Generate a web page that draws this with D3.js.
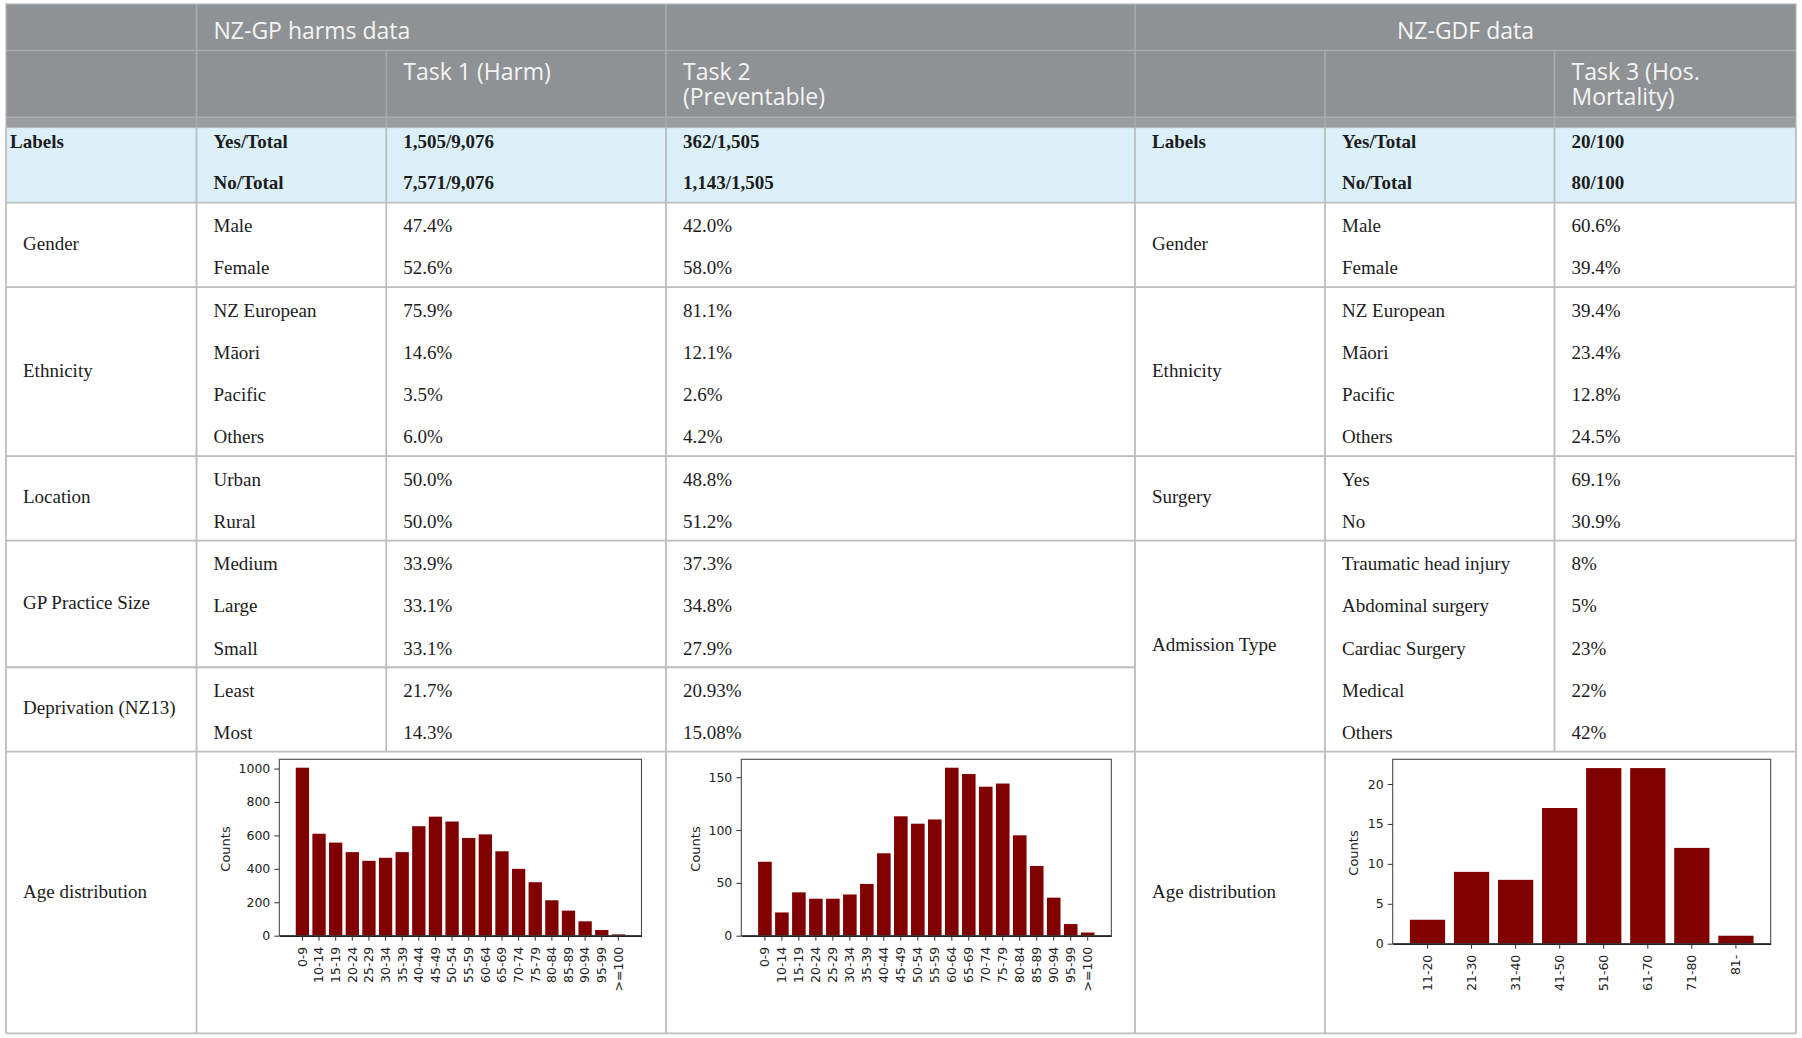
<!DOCTYPE html>
<html><head><meta charset="utf-8">
<script src="https://cdn.jsdelivr.net/npm/d3@7"></script>
<style>html,body{margin:0;padding:0;background:#fff;overflow:hidden}</style>
</head><body><svg id="c" width="1802" height="1038"></svg>
<script>
// ---------------- data ----------------
const headerTop = ["NZ-GP harms data", "NZ-GDF data"];
const task1Header = ["Task 1 (Harm)"];
const task2Header = ["Task 2", "(Preventable)"];
const task3Header = ["Task 3 (Hos.", "Mortality)"];
const labelsTitle = "Labels";
const labelSubs = ["Yes/Total", "No/Total"];
const task1Labels = ["1,505/9,076", "7,571/9,076"];
const task2Labels = ["362/1,505", "1,143/1,505"];
const task3Labels = ["20/100", "80/100"];
const gpGroups = ["Gender", "Ethnicity", "Location", "GP Practice Size", "Deprivation (NZ13)"];
const gpSubs = [["Male", "Female"], ["NZ European", "Māori", "Pacific", "Others"], ["Urban", "Rural"], ["Medium", "Large", "Small"], ["Least", "Most"]];
const task1Values = [["47.4%", "52.6%"], ["75.9%", "14.6%", "3.5%", "6.0%"], ["50.0%", "50.0%"], ["33.9%", "33.1%", "33.1%"], ["21.7%", "14.3%"]];
const task2Values = [["42.0%", "58.0%"], ["81.1%", "12.1%", "2.6%", "4.2%"], ["48.8%", "51.2%"], ["37.3%", "34.8%", "27.9%"], ["20.93%", "15.08%"]];
const gdfGroups = ["Gender", "Ethnicity", "Surgery", "Admission Type"];
const gdfSubs = [["Male", "Female"], ["NZ European", "Māori", "Pacific", "Others"], ["Yes", "No"], ["Traumatic head injury", "Abdominal surgery", "Cardiac Surgery", "Medical", "Others"]];
const task3Values = [["60.6%", "39.4%"], ["39.4%", "23.4%", "12.8%", "24.5%"], ["69.1%", "30.9%"], ["8%", "5%", "23%", "22%", "42%"]];
const ageTitle = "Age distribution";
const countsLabel = "Counts";
const ageBins5 = ["0-9", "10-14", "15-19", "20-24", "25-29", "30-34", "35-39", "40-44", "45-49", "50-54", "55-59", "60-64", "65-69", "70-74", "75-79", "80-84", "85-89", "90-94", "95-99", ">=100"];
const task1Ages = [1005, 610, 557, 500, 448, 466, 500, 655, 712, 683, 585, 606, 505, 400, 320, 212, 150, 86, 34, 8];
const task2Ages = [70, 22, 41, 35, 35, 39, 49, 78, 113, 106, 110, 159, 153, 141, 144, 95, 66, 36, 11, 3];
const ageBins10 = ["11-20", "21-30", "31-40", "41-50", "51-60", "61-70", "71-80", "81-"];
const task3Ages = [3, 9, 8, 17, 22, 22, 12, 1];
const ticks1 = [0, 200, 400, 600, 800, 1000];
const ticks2 = [0, 50, 100, 150];
const ticks3 = [0, 5, 10, 15, 20];

// ---------------- layout ----------------
const svg = d3.select("#c");
const colX = [6, 196.5, 386.3, 666, 1135, 1325, 1554.5, 1796];
const pad = 17;
const hTop = 4, h1 = 50.5, h2 = 117.3, hStrip = 127.5, bodyTop = 202.7, bodyBot = 751.7, tableBot = 1033.3;
const subH = (bodyBot - bodyTop) / 13;
const headFill = "#8f9295", stripFill = "#9a9da0", headLine = "#a9acae";
const blue = "#dcf0fa", bodyLine = "#bdbdbd";
const serif = "'Liberation Serif','Times New Roman',serif";
const sans = "'Open Sans','Noto Sans',sans-serif";

svg.append("rect").attr("width", 1802).attr("height", 1038).attr("fill", "#fff");
svg.append("rect").attr("x", colX[0]).attr("y", hTop).attr("width", colX[7] - colX[0]).attr("height", h2 - hTop).attr("fill", headFill);
svg.append("rect").attr("x", colX[0]).attr("y", h2).attr("width", colX[7] - colX[0]).attr("height", hStrip - h2).attr("fill", stripFill);
svg.append("rect").attr("x", colX[0]).attr("y", hStrip).attr("width", colX[7] - colX[0]).attr("height", bodyTop - hStrip).attr("fill", blue);

// header lines
const hl = svg.append("g").attr("stroke", headLine).attr("stroke-width", 1.5);
[[colX[0], colX[7], h1], [colX[0], colX[7], h2]].forEach(d => hl.append("line").attr("x1", d[0]).attr("x2", d[1]).attr("y1", d[2]).attr("y2", d[2]));
[[colX[1], hTop, hStrip], [colX[3], hTop, hStrip], [colX[4], hTop, hStrip], [colX[2], h1, hStrip], [colX[5], h1, hStrip], [colX[6], h1, hStrip]]
  .forEach(d => hl.append("line").attr("x1", d[0]).attr("x2", d[0]).attr("y1", d[1]).attr("y2", d[2]));

// body lines
const bl = svg.append("g").attr("stroke", bodyLine).attr("stroke-width", 1.8).attr("fill", "none");
const gpTops = [bodyTop]; gpSubs.forEach(s => gpTops.push(gpTops[gpTops.length - 1] + s.length * subH));
const gdfTops = [bodyTop]; gdfSubs.forEach(s => gdfTops.push(gdfTops[gdfTops.length - 1] + s.length * subH));
const hLines = [[colX[0], colX[7], bodyTop], [colX[0], colX[7], bodyBot], [colX[0], colX[7], tableBot]];
gpTops.slice(1, -1).forEach(y => {
  const shared = gdfTops.some(t => Math.abs(t - y) < 0.5);
  hLines.push([colX[0], shared ? colX[7] : colX[4], y]);
});
hLines.forEach(d => bl.append("line").attr("x1", d[0]).attr("x2", d[1]).attr("y1", d[2]).attr("y2", d[2]));
[[colX[0], hStrip, tableBot], [colX[1], hStrip, tableBot], [colX[2], hStrip, bodyBot], [colX[3], hStrip, tableBot],
 [colX[4], hStrip, tableBot], [colX[5], hStrip, tableBot], [colX[6], hStrip, bodyBot], [colX[7], hStrip, tableBot]]
  .forEach(d => bl.append("line").attr("x1", d[0]).attr("x2", d[0]).attr("y1", d[1]).attr("y2", d[2]));
svg.append("rect").attr("x", colX[0]).attr("y", hTop).attr("width", colX[7] - colX[0]).attr("height", hStrip - hTop)
  .attr("fill", "none").attr("stroke", "#b5b8ba").attr("stroke-width", 1.2);

// header text
const ht = svg.append("g").attr("font-family", sans).attr("font-weight", 400).attr("font-size", 23).attr("fill", "#f4f4f4");
ht.append("text").attr("x", colX[1] + pad).attr("y", 38.5).text(headerTop[0]);
ht.append("text").attr("x", (colX[4] + colX[7]) / 2).attr("y", 38.5).attr("text-anchor", "middle").text(headerTop[1]);
[[task1Header, colX[2]], [task2Header, colX[3]], [task3Header, colX[6]]].forEach(([lines, x]) => {
  const t = ht.append("text").attr("x", x + pad).attr("y", 80);
  lines.forEach((s, i) => t.append("tspan").attr("x", x + pad).attr("dy", i ? 25 : 0).text(s));
});

// body text
const cells = [];
const lb1 = 147.7, lb2 = 189.3;
cells.push({ t: labelsTitle, x: colX[0] + 4, y: lb1, b: true });
cells.push({ t: labelsTitle, x: colX[4] + pad, y: lb1, b: true });
labelSubs.forEach((s, i) => {
  const y = i ? lb2 : lb1;
  cells.push({ t: s, x: colX[1] + pad, y, b: true });
  cells.push({ t: task1Labels[i], x: colX[2] + pad, y, b: true });
  cells.push({ t: task2Labels[i], x: colX[3] + pad, y, b: true });
  cells.push({ t: s, x: colX[5] + pad, y, b: true });
  cells.push({ t: task3Labels[i], x: colX[6] + pad, y, b: true });
});
const baseOff = 29.5;
gpGroups.forEach((g, gi) => {
  const top = gpTops[gi], n = gpSubs[gi].length;
  cells.push({ t: g, x: colX[0] + pad, y: top + n * subH / 2 + 5 });
  gpSubs[gi].forEach((s, k) => {
    const y = top + k * subH + baseOff;
    cells.push({ t: s, x: colX[1] + pad, y });
    cells.push({ t: task1Values[gi][k], x: colX[2] + pad, y });
    cells.push({ t: task2Values[gi][k], x: colX[3] + pad, y });
  });
});
gdfGroups.forEach((g, gi) => {
  const top = gdfTops[gi], n = gdfSubs[gi].length;
  cells.push({ t: g, x: colX[4] + pad, y: top + n * subH / 2 + 5 });
  gdfSubs[gi].forEach((s, k) => {
    const y = top + k * subH + baseOff;
    cells.push({ t: s, x: colX[5] + pad, y });
    cells.push({ t: task3Values[gi][k], x: colX[6] + pad, y });
  });
});
cells.push({ t: ageTitle, x: colX[0] + pad, y: 898 });
cells.push({ t: ageTitle, x: colX[4] + pad, y: 898 });
svg.append("g").attr("font-family", serif).attr("font-size", 19).attr("fill", "#1c1c1c")
  .selectAll("text").data(cells).join("text")
  .attr("x", d => d.x).attr("y", d => d.y).attr("font-weight", d => d.b ? "bold" : "normal").text(d => d.t);

// ---------------- histograms ----------------
function histogram(bins, vals, ticks, box, labelX) {
  const n = bins.length;
  const x = d3.scaleBand().domain(bins).range([box.x0, box.x1]).paddingInner(0.2).paddingOuter(0.05 * (n - 0.2));
  const y = d3.scaleLinear().domain([0, d3.max(vals) * 1.05]).range([box.y1, box.y0]);
  const g = svg.append("g");
  g.selectAll("rect.bar").data(bins).join("rect").attr("class", "bar")
    .attr("x", d => x(d)).attr("width", x.bandwidth())
    .attr("y", (d, i) => y(vals[i])).attr("height", (d, i) => y(0) - y(vals[i]))
    .attr("fill", "#800000");
  g.append("rect").attr("x", box.x0).attr("y", box.y0).attr("width", box.x1 - box.x0).attr("height", box.y1 - box.y0)
    .attr("fill", "none").attr("stroke", "#4a4a4a").attr("stroke-width", 1.1);
  const xa = g.append("g").attr("transform", `translate(0,${box.y1})`)
    .call(d3.axisBottom(x).tickSize(5).tickSizeOuter(0));
  xa.select(".domain").attr("stroke", "#222").attr("stroke-width", 1.4);
  xa.selectAll(".tick line").attr("stroke", "#333");
  xa.selectAll("text").attr("transform", "rotate(-90)").attr("x", -11).attr("y", 0).attr("dy", "0.35em")
    .attr("text-anchor", "end").attr("font-family", "'DejaVu Sans',sans-serif").attr("font-size", 12.5).attr("fill", "#222");
  const ya = g.append("g").attr("transform", `translate(${box.x0},0)`)
    .call(d3.axisLeft(y).tickValues(ticks).tickFormat(d3.format("d")).tickSize(5).tickPadding(4).tickSizeOuter(0));
  ya.select(".domain").remove();
  ya.selectAll(".tick line").attr("stroke", "#333");
  ya.selectAll("text").attr("font-family", "'DejaVu Sans',sans-serif").attr("font-size", 12.5).attr("fill", "#222");
  g.append("text").attr("transform", `translate(${labelX},${(box.y0 + box.y1) / 2 + 1.5}) rotate(-90)`)
    .attr("text-anchor", "middle").attr("dy", "0.35em").attr("font-family", "'DejaVu Sans',sans-serif")
    .attr("font-size", 13).attr("fill", "#222").text(countsLabel);
}
histogram(ageBins5, task1Ages, ticks1, { x0: 279.3, x1: 641.5, y0: 759.3, y1: 935.7 }, 225);
histogram(ageBins5, task2Ages, ticks2, { x0: 741.3, x1: 1111.3, y0: 759.3, y1: 935.7 }, 695);
histogram(ageBins10, task3Ages, ticks3, { x0: 1392.7, x1: 1770.7, y0: 759.3, y1: 943.7 }, 1353.3);
</script></body></html>
